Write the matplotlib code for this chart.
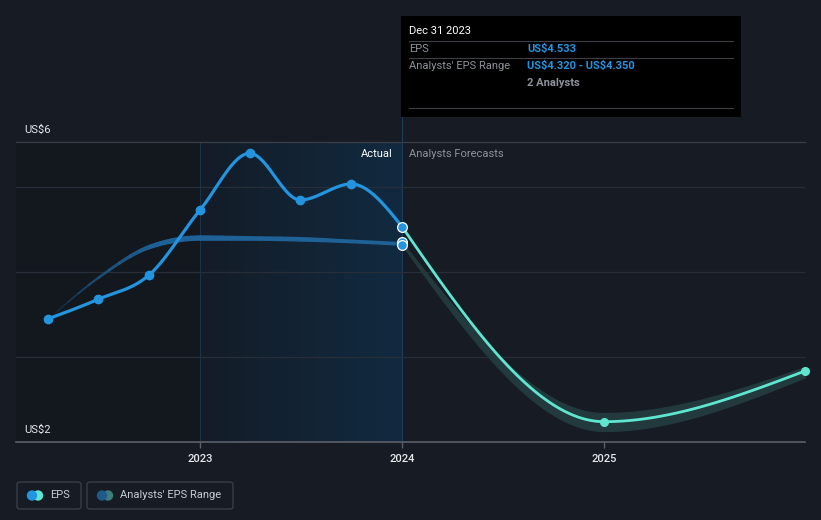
import numpy as np
import matplotlib
matplotlib.use("Agg")
import matplotlib.pyplot as plt
from matplotlib.patches import FancyBboxPatch, Rectangle, Ellipse
from matplotlib.lines import Line2D

plt.rcParams['font.family'] = ['Roboto', 'DejaVu Sans']

# data (dates as decimal years)
eps_dates = [2022.246, 2022.496, 2022.748, 2023.0, 2023.246, 2023.496, 2023.748, 2024.0]
eps_values = [3.447, 3.679, 3.965, 4.729, 5.396, 4.847, 5.035, 4.533]

range_dates = [2022.246, 2022.496, 2022.748, 2023.0, 2023.246, 2023.496, 2023.748, 2024.0]
range_low = [3.447, 3.93, 4.28, 4.38, 4.38, 4.37, 4.35, 4.32]
range_high = [3.447, 3.95, 4.32, 4.43, 4.42, 4.41, 4.38, 4.35]

fc_dates = [2024.0, 2025.0, 2025.995]
fc_values = [4.533, 2.239, 2.835]
fc_low = [4.32, 2.13, 2.76]
fc_high = [4.35, 2.34, 2.88]

year_ticks = [2023, 2024, 2025]

BG = '#161b24'
BLUE = '#2394df'
AQUA = '#5ee6d0'

W, H = 821, 520


def fx(px):
    return px / W


def fy(py):
    return 1 - py / H


def monotone(x, y, n=60):
    # monotone cubic like d3.curveMonotoneX
    x = np.asarray(x, float)
    y = np.asarray(y, float)
    h = np.diff(x)
    s = np.diff(y) / h
    t = np.zeros(len(x))
    for i in range(1, len(x) - 1):
        p = (s[i - 1] * h[i] + s[i] * h[i - 1]) / (h[i - 1] + h[i])
        t[i] = (np.sign(s[i - 1]) + np.sign(s[i])) * min(abs(s[i - 1]), abs(s[i]), 0.5 * abs(p))
    t[0] = (3 * s[0] - t[1]) / 2 if len(x) > 2 else s[0]
    t[-1] = (3 * s[-1] - t[-2]) / 2 if len(x) > 2 else s[-1]
    xs, ys = [], []
    for i in range(len(x) - 1):
        u = np.linspace(0, 1, n)
        h00 = 2 * u**3 - 3 * u**2 + 1
        h10 = u**3 - 2 * u**2 + u
        h01 = -2 * u**3 + 3 * u**2
        h11 = u**3 - u**2
        xs.append(x[i] + u * h[i])
        ys.append(h00 * y[i] + h10 * h[i] * t[i] + h01 * y[i + 1] + h11 * h[i] * t[i + 1])
    return np.concatenate(xs), np.concatenate(ys)


fig = plt.figure(figsize=(W / 100, H / 100), dpi=100, facecolor=BG)
ax = fig.add_axes([fx(16), fy(442), fx(805) - fx(16), fy(142) - fy(442)])
ax.set_facecolor(BG)
x0, x1 = 2022.089, 2025.995
y0, y1 = 2.0, 5.529
ax.set_xlim(x0, x1)
ax.set_ylim(y0, y1)
for sp in ax.spines.values():
    sp.set_visible(False)

# darker past region and highlighted last year
ax.add_patch(Rectangle((x0, y0), 2023 - x0, y1 - y0, color='#13171e', zorder=0, lw=0))
grad = np.linspace(0, 1, 256).reshape(1, -1)
cmap = matplotlib.colors.LinearSegmentedColormap.from_list('g', ['#141c27', '#112a40'])
ax.imshow(grad, extent=[2023, 2024, y0, y1], aspect='auto', cmap=cmap, zorder=0.5)
ax.axvline(2023, color='#1b3348', lw=0.8, zorder=1)
ax.axvline(2024, color='#1e3d58', lw=0.8, zorder=1)

for v in [3, 4, 5]:
    ax.axhline(v, color='#282e38', lw=0.9, zorder=1)
ax.axhline(y1, color='#3a3f48', lw=0.9, zorder=1, clip_on=False)
ax.axhline(y0, color='#5c6069', lw=1.2, zorder=1, clip_on=False)

# past analyst range band, fading in from the left
bx, bl = monotone(range_dates, range_low)
_, bh = monotone(range_dates, range_high)
k = 12
for i in range(0, len(bx) - 1, k):
    j = min(i + k + 1, len(bx))
    a = min(1.0, 0.15 + (bx[i] - bx[0]) / 0.6)
    ax.fill_between(bx[i:j], bl[i:j], bh[i:j], color='#1f6297', alpha=a,
                    lw=0.9, edgecolor='#1f6297', zorder=2)

# forecast band
fxx, fl = monotone(fc_dates, fc_low)
_, fh = monotone(fc_dates, fc_high)
ax.fill_between(fxx, fl, fh, color='#22393d', lw=1.0, edgecolor='#22393d', zorder=2)

# actual EPS
ex, ey = monotone(eps_dates, eps_values)
ax.plot(ex, ey, color=BLUE, lw=2.3, zorder=4, solid_capstyle='round')
ax.plot(eps_dates[:-1], eps_values[:-1], 'o', color=BLUE, ms=6, zorder=5)

# forecast EPS
gx, gy = monotone(fc_dates, fc_values)
ax.plot(gx, gy, color=AQUA, lw=2.0, zorder=4, solid_capstyle='round')
ax.plot(fc_dates[1:], fc_values[1:], 'o', color=AQUA, ms=5.5, zorder=5, clip_on=False)

# hover markers
ax.plot([2024.0], [eps_values[-1]], 'o', color=BLUE, ms=7, mec='white', mew=0.9, zorder=6)
ax.plot([2024.0], [range_high[-1]], 'o', color=BLUE, ms=7, mec='white', mew=0.9, zorder=6)
ax.plot([2024.0], [range_low[-1]], 'o', color=BLUE, ms=7, mec='white', mew=0.9, zorder=6)

ax.set_xticks(year_ticks)
ax.set_xticklabels([str(y) for y in year_ticks], color='#e6e8eb', fontsize=8, fontweight='medium')
ax.tick_params(axis='x', length=4, color='#5c6069', pad=5, width=1)
ax.set_yticks([])

fig.text(fx(24), fy(130), 'US\\$6', color='#e6e8eb', fontsize=8, va='center')
fig.text(fx(24), fy(430), 'US\\$2', color='#e6e8eb', fontsize=8, va='center')
fig.text(fx(393), fy(154), 'Actual', color='#ffffff', fontsize=8, va='center', ha='right')
fig.text(fx(409), fy(154), 'Analysts Forecasts', color='#8e939b', fontsize=8, va='center')

# tooltip
fig.add_artist(Line2D([fx(402), fx(402)], [fy(117), fy(142)], color='#1e3d58', lw=0.8))
fig.add_artist(Rectangle((fx(401), fy(117)), fx(741) - fx(401), fy(16) - fy(117),
                         facecolor='#000000', edgecolor='none'))
for yy in [41, 58, 108]:
    fig.add_artist(Line2D([fx(409), fx(733)], [fy(yy), fy(yy)], color='#3d3f44', lw=0.8))
fig.text(fx(409), fy(31), 'Dec 31 2023', color='#ffffff', fontsize=8, va='center')
fig.text(fx(409), fy(48.5), 'EPS', color='#8e939b', fontsize=8, va='center')
fig.text(fx(527), fy(48.5), 'US\\$4.533', color=BLUE, fontsize=8, va='center', fontweight='bold')
fig.text(fx(409), fy(66), "Analysts' EPS Range", color='#8e939b', fontsize=8, va='center')
fig.text(fx(527), fy(66), 'US\\$4.320 - US\\$4.350', color=BLUE, fontsize=8, va='center',
         fontweight='bold')
fig.text(fx(527), fy(83), '2 Analysts', color='#8e939b', fontsize=8, va='center', fontweight='bold')


# legend
def legend_box(left, right, c1, c2, label, tx):
    fig.add_artist(FancyBboxPatch((fx(left), fy(509)), fx(right) - fx(left), fy(482) - fy(509),
                                  boxstyle='round,pad=0,rounding_size=0.004',
                                  facecolor='none', edgecolor='#3b4049', lw=0.9))
    fig.add_artist(Ellipse((fx(left + 21), fy(495.5)), 9 / W, 9 / H, color=c2,
                           transform=fig.transFigure))
    fig.add_artist(Ellipse((fx(left + 15), fy(495.5)), 9 / W, 9 / H, color=c1,
                           transform=fig.transFigure))
    fig.text(fx(tx), fy(495.5), label, color='#c9ccd1', fontsize=8, va='center')


legend_box(17, 81, BLUE, AQUA, 'EPS', 50)
legend_box(87, 233, '#1f5a8a', '#3d7d7a', "Analysts' EPS Range", 120)

fig.savefig('out.png', dpi=100, facecolor=BG)
